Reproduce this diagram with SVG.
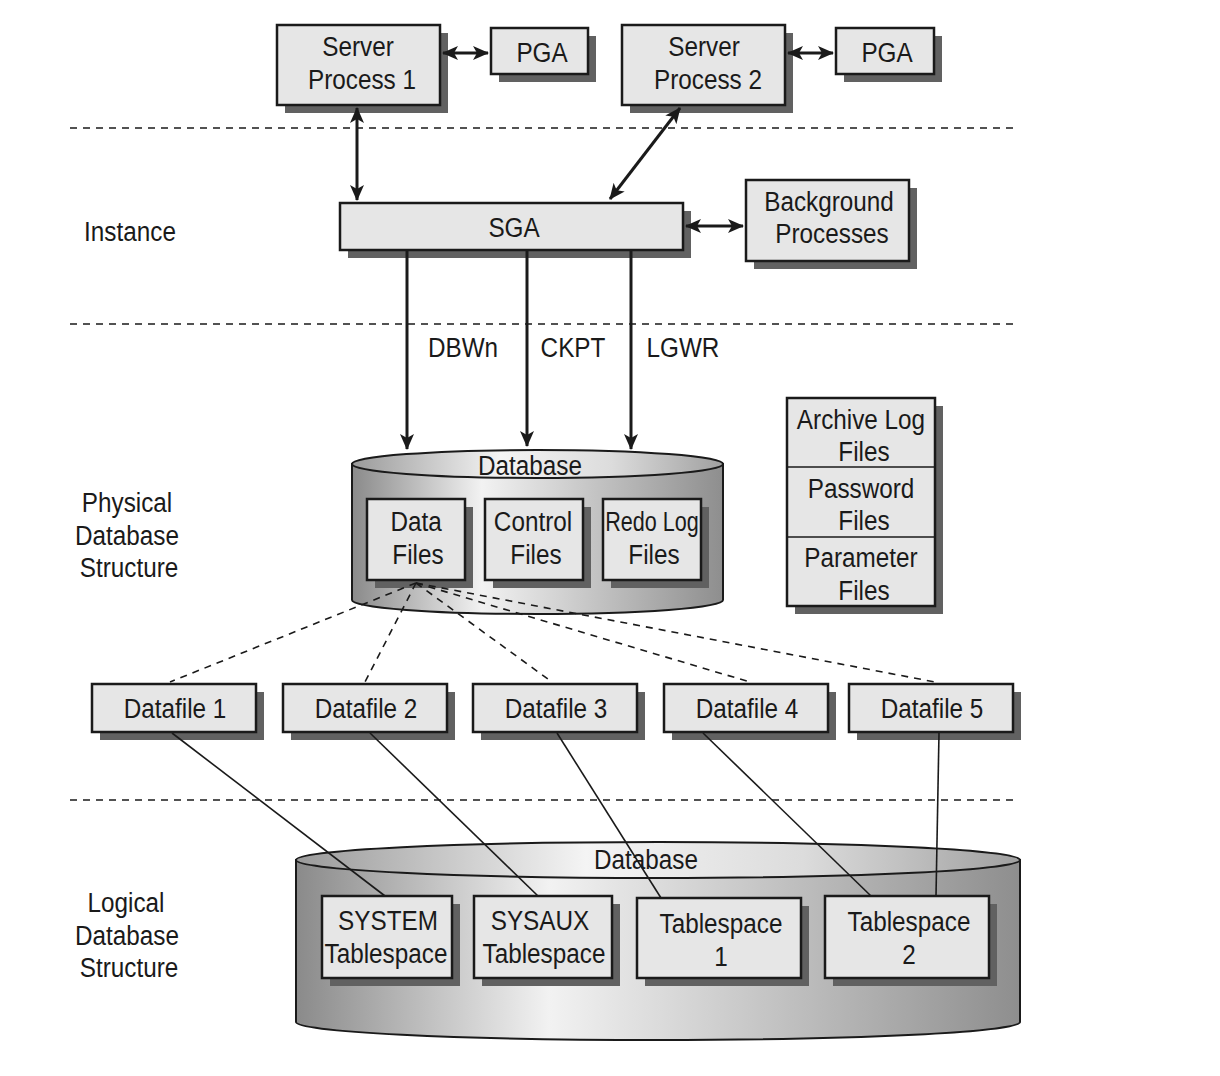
<svg xmlns="http://www.w3.org/2000/svg" width="1220" height="1076" viewBox="0 0 1220 1076">
<style>
text{font-family:"Liberation Sans Narrow","Liberation Sans",Arial,sans-serif;font-size:27px;fill:#1a1a1a;text-anchor:middle;transform-box:fill-box;transform-origin:center;transform:scaleX(0.9)}
.box{fill:#e6e6e6;stroke:#1a1a1a;stroke-width:2.5}
.sh{fill:#616161}
.arr{stroke:#1a1a1a;stroke-width:3;fill:none}
.dash{stroke:#1a1a1a;stroke-width:1.6;stroke-dasharray:7 6;fill:none}
.ln{stroke:#1a1a1a;stroke-width:1.6;fill:none}
.cyl{stroke:#1a1a1a;stroke-width:2}
</style>
<defs>
<linearGradient id="body" x1="0" x2="1" y1="0" y2="0">
<stop offset="0" stop-color="#8a8a8a"/><stop offset="0.35" stop-color="#f2f2f2"/><stop offset="0.55" stop-color="#d4d4d4"/><stop offset="1" stop-color="#8e8e8e"/>
</linearGradient>
<linearGradient id="top" x1="0" x2="1" y1="0" y2="0">
<stop offset="0" stop-color="#9a9a9a"/><stop offset="0.4" stop-color="#f4f4f4"/><stop offset="0.7" stop-color="#dcdcdc"/><stop offset="1" stop-color="#a0a0a0"/>
</linearGradient>
<marker id="ahl" markerWidth="16" markerHeight="14" refX="15" refY="7" orient="auto-start-reverse" markerUnits="userSpaceOnUse">
<path d="M0,0 L16,7 L0,14 L4,7 Z" fill="#1a1a1a"/>
</marker>
</defs>
<rect width="1220" height="1076" fill="#fff"/>

<g id="separators">
<line class="dash" x1="70" y1="128" x2="1015" y2="128"/>
<line class="dash" x1="70" y1="324" x2="1015" y2="324"/>
<line class="dash" x1="70" y1="800" x2="1015" y2="800"/>
</g>

<g id="labels">
<text x="130" y="241">Instance</text>
<text x="127" y="512">Physical</text>
<text x="127" y="545">Database</text>
<text x="129" y="577">Structure</text>
<text x="126" y="912">Logical</text>
<text x="127" y="945">Database</text>
<text x="129" y="977">Structure</text>
<text x="463" y="357">DBWn</text>
<text x="573" y="357">CKPT</text>
<text x="683" y="357">LGWR</text>
</g>

<g id="sp1"><rect class="sh" x="285" y="33" width="163" height="80"/><rect class="box" x="277" y="25" width="163" height="80"/><text x="358" y="56">Server</text><text x="362" y="89">Process 1</text></g>
<g id="pga1"><rect class="sh" x="499" y="36" width="97" height="46"/><rect class="box" x="491" y="28" width="97" height="46"/><text x="542" y="62">PGA</text></g>
<g id="sp2"><rect class="sh" x="630" y="33" width="163" height="80"/><rect class="box" x="622" y="25" width="163" height="80"/><text x="704" y="56">Server</text><text x="708" y="89">Process 2</text></g>
<g id="pga2"><rect class="sh" x="844" y="36" width="98" height="46"/><rect class="box" x="836" y="28" width="98" height="46"/><text x="887" y="62">PGA</text></g>
<g id="sga"><rect class="sh" x="348" y="211" width="343" height="47"/><rect class="box" x="340" y="203" width="343" height="47"/><text x="514" y="237">SGA</text></g>
<g id="bg"><rect class="sh" x="754" y="188" width="163" height="81"/><rect class="box" x="746" y="180" width="163" height="81"/><text x="829" y="211">Background</text><text x="832" y="243">Processes</text></g>

<g id="physdb">
<path class="cyl" fill="url(#body)" d="M352,464 L352,600 A185.5,14 0 0 0 723,600 L723,464 Z"/>
<ellipse class="cyl" fill="url(#top)" cx="537.5" cy="464" rx="185.5" ry="14"/>
<text x="530" y="475">Database</text>
</g>
<g id="datafiles"><rect class="sh" x="375" y="507" width="98" height="81"/><rect class="box" x="367" y="499" width="98" height="81"/><text x="416" y="531">Data</text><text x="418" y="564">Files</text></g>
<g id="controlfiles"><rect class="sh" x="493" y="507" width="98" height="81"/><rect class="box" x="485" y="499" width="98" height="81"/><text x="533" y="531">Control</text><text x="536" y="564">Files</text></g>
<g id="redologfiles"><rect class="sh" x="611" y="507" width="98" height="81"/><rect class="box" x="603" y="499" width="98" height="81"/><text x="652" y="531" textLength="104" lengthAdjust="spacingAndGlyphs">Redo Log</text><text x="654" y="564">Files</text></g>

<g id="otherfiles">
<rect class="sh" x="795" y="406" width="148" height="208"/>
<rect class="box" x="787" y="398" width="148" height="208"/>
<line class="ln" x1="787" y1="467" x2="935" y2="467" stroke-width="2.5"/>
<line class="ln" x1="787" y1="537" x2="935" y2="537" stroke-width="2.5"/>
<text x="861" y="429">Archive Log</text><text x="864" y="461">Files</text>
<text x="861" y="498">Password</text><text x="864" y="530">Files</text>
<text x="861" y="567">Parameter</text><text x="864" y="600">Files</text>
</g>

<g id="df1"><rect class="sh" x="100" y="692" width="164" height="48"/><rect class="box" x="92" y="684" width="164" height="48"/><text x="175" y="718">Datafile 1</text></g>
<g id="df2"><rect class="sh" x="291" y="692" width="164" height="48"/><rect class="box" x="283" y="684" width="164" height="48"/><text x="366" y="718">Datafile 2</text></g>
<g id="df3"><rect class="sh" x="481" y="692" width="164" height="48"/><rect class="box" x="473" y="684" width="164" height="48"/><text x="556" y="718">Datafile 3</text></g>
<g id="df4"><rect class="sh" x="672" y="692" width="164" height="48"/><rect class="box" x="664" y="684" width="164" height="48"/><text x="747" y="718">Datafile 4</text></g>
<g id="df5"><rect class="sh" x="857" y="692" width="164" height="48"/><rect class="box" x="849" y="684" width="164" height="48"/><text x="932" y="718">Datafile 5</text></g>

<g id="logdb">
<path class="cyl" fill="url(#body)" d="M296,860 L296,1022 A362,18 0 0 0 1020,1022 L1020,860 Z"/>
<ellipse class="cyl" fill="url(#top)" cx="658" cy="860" rx="362" ry="18"/>
<text x="646" y="869">Database</text>
</g>
<g id="system"><rect class="sh" x="330" y="904" width="130" height="82"/><rect class="box" x="322" y="896" width="130" height="82"/><text x="388" y="930">SYSTEM</text><text x="386" y="963">Tablespace</text></g>
<g id="sysaux"><rect class="sh" x="482" y="904" width="138" height="82"/><rect class="box" x="474" y="896" width="138" height="82"/><text x="540" y="930">SYSAUX</text><text x="544" y="963">Tablespace</text></g>
<g id="ts1"><rect class="sh" x="645" y="906" width="164" height="80"/><rect class="box" x="637" y="898" width="164" height="80"/><text x="721" y="933">Tablespace</text><text x="721" y="966">1</text></g>
<g id="ts2"><rect class="sh" x="833" y="904" width="164" height="82"/><rect class="box" x="825" y="896" width="164" height="82"/><text x="909" y="931">Tablespace</text><text x="909" y="964">2</text></g>

<g id="connectors">
<line class="arr" x1="443" y1="53" x2="488" y2="53" marker-start="url(#ahl)" marker-end="url(#ahl)"/>
<line class="arr" x1="788" y1="53" x2="833" y2="53" marker-start="url(#ahl)" marker-end="url(#ahl)"/>
<line class="arr" x1="357" y1="108" x2="357" y2="200" marker-start="url(#ahl)" marker-end="url(#ahl)"/>
<line class="arr" x1="680" y1="108" x2="610" y2="199" marker-start="url(#ahl)" marker-end="url(#ahl)"/>
<line class="arr" x1="686" y1="226" x2="743" y2="226" marker-start="url(#ahl)" marker-end="url(#ahl)"/>
<line class="arr" x1="407" y1="250" x2="407" y2="449" marker-end="url(#ahl)"/>
<line class="arr" x1="527" y1="250" x2="527" y2="446" marker-end="url(#ahl)"/>
<line class="arr" x1="631" y1="250" x2="631" y2="449" marker-end="url(#ahl)"/>
<line class="dash" x1="416" y1="583" x2="170" y2="682"/>
<line class="dash" x1="416" y1="583" x2="365" y2="682"/>
<line class="dash" x1="416" y1="583" x2="552" y2="682"/>
<line class="dash" x1="416" y1="583" x2="750" y2="682"/>
<line class="dash" x1="416" y1="583" x2="935" y2="682"/>
<line class="ln" x1="172" y1="733" x2="385" y2="896"/>
<line class="ln" x1="370" y1="733" x2="538" y2="896"/>
<line class="ln" x1="557" y1="733" x2="661" y2="898"/>
<line class="ln" x1="703" y1="733" x2="871" y2="896"/>
<line class="ln" x1="939" y1="733" x2="936" y2="896"/>
</g>
</svg>
